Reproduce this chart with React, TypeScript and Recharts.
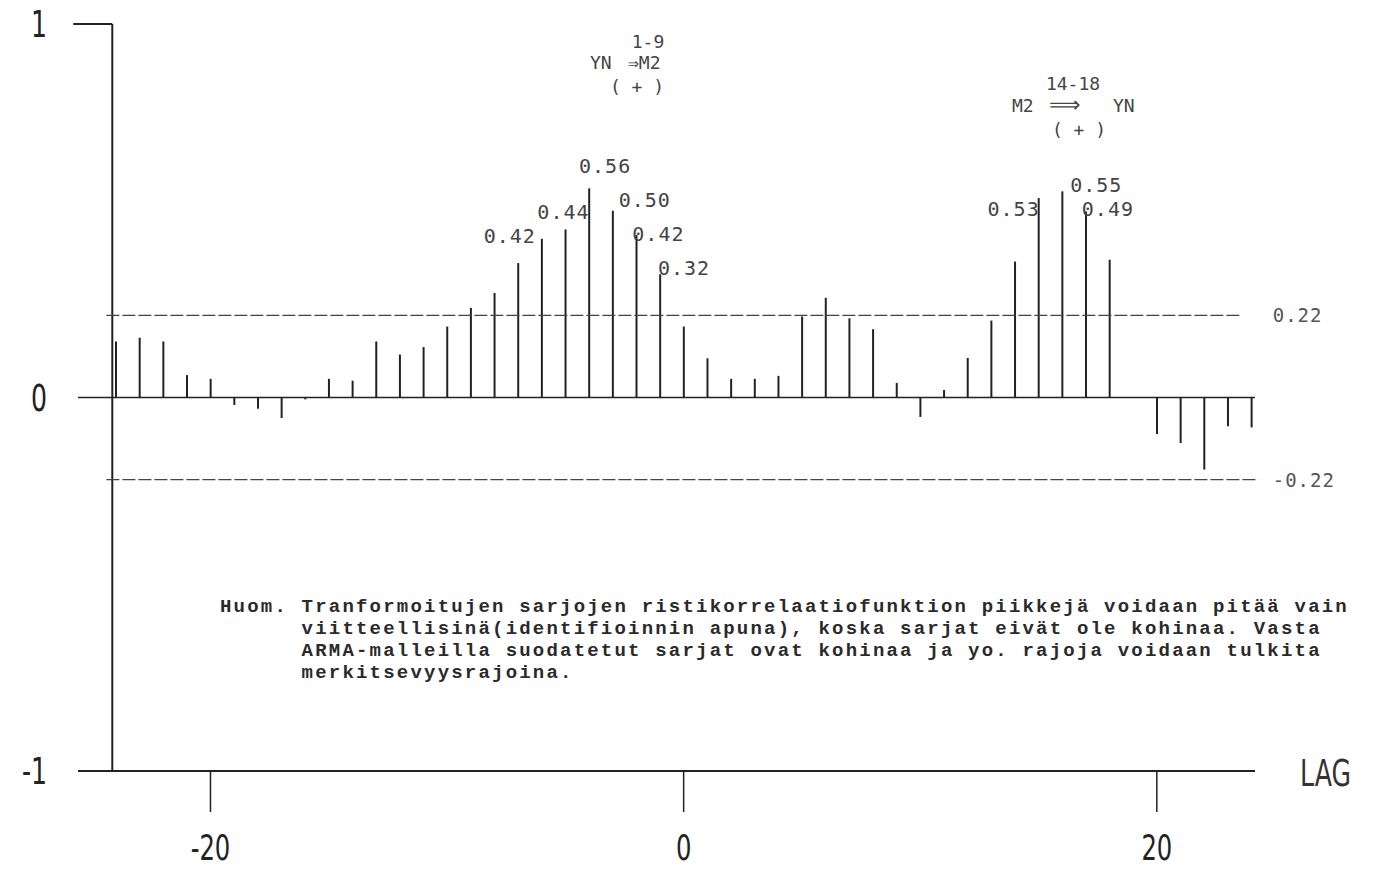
import React from "react"
import { ComposedChart, XAxis, YAxis, Bar, ReferenceLine, ReferenceDot } from "recharts"

// lag values of the cross-correlation function
const lags = [
  -24, -23, -22, -21, -20, -19, -18, -17, -16, -15, -14, -13, -12, -11, -10, -9, -8,
  -7, -6, -5, -4, -3, -2, -1, 0, 1, 2, 3, 4, 5, 6, 7, 8, 9, 10, 11, 12, 13, 14, 15,
  16, 17, 18, 19, 20, 21, 22, 23, 24,
]
const ccf = [
  0.15, 0.16, 0.15, 0.06, 0.05, -0.02, -0.03, -0.055, -0.005, 0.05, 0.045, 0.15, 0.115,
  0.135, 0.19, 0.24, 0.28, 0.36, 0.425, 0.45, 0.56, 0.5, 0.435, 0.33, 0.19, 0.105, 0.05,
  0.05, 0.058, 0.217, 0.267, 0.212, 0.183, 0.039, -0.052, 0.02, 0.106, 0.206, 0.364,
  0.534, 0.552, 0.498, 0.369, 0, -0.098, -0.122, -0.193, -0.077, -0.08,
]
const xTicks = [-20, 0, 20]
const yTicks = [-1, 0, 1]
const bandLimit = 0.22
const bandLabels = ["0.22", "-0.22"]
const peakLags = [-6, -5, -4, -3, -2, -1, 15, 16, 17]
const peakLabels = ["0.42", "0.44", "0.56", "0.50", "0.42", "0.32", "0.53", "0.55", "0.49"]
const noteLines = [
  "Huom. Tranformoitujen sarjojen ristikorrelaatiofunktion piikkejä voidaan pitää vain",
  "      viitteellisinä(identifioinnin apuna), koska sarjat eivät ole kohinaa. Vasta",
  "      ARMA-malleilla suodatetut sarjat ovat kohinaa ja yo. rajoja voidaan tulkita",
  "      merkitsevyysrajoina.",
]

const rows = lags.map((lag, i) => ({ lag, r: ccf[i] }))

// text offsets of the peak labels from the bar tops (px)
const peakOffsets = [
  [-58, 4], [-28, -10], [-10, -15], [6, -4], [-4, 6], [-2, 1], [-51, 18], [8, 1], [-4, 5],
]

const ink = "#222"
const plotFont = "'DejaVu Sans Condensed', 'DejaVu Sans', sans-serif"
const monoFont = "'DejaVu Sans Mono', monospace"
const typeFont = "'Liberation Mono', monospace"

const XTick = ({ x, payload }: any) => (
  <text
    transform={`translate(${x},860) scale(1,1.3)`}
    textAnchor="middle"
    fontFamily={plotFont}
    fontSize={27}
    fill={ink}
  >
    {payload.value}
  </text>
)

const YTick = ({ y, payload }: any) => (
  <text
    transform={`translate(47,${y + 13}) scale(1,1.3)`}
    textAnchor="end"
    fontFamily={plotFont}
    fontSize={28}
    fill={ink}
  >
    {payload.value}
  </text>
)

export default function App() {
  return (
    <div style={{ position: "absolute", left: 0, top: 0, width: 1375, height: 869, background: "#fff" }}>
      <ComposedChart
        width={1375}
        height={869}
        data={rows}
        margin={{ top: 24, right: 120, bottom: 38, left: 18 }}
      >
        <XAxis
          type="number"
          dataKey="lag"
          domain={[-25.6, 24.15]}
          allowDataOverflow
          ticks={xTicks}
          interval={0}
          height={60}
          tickSize={41}
          axisLine={{ stroke: ink, strokeWidth: 2 }}
          tickLine={{ stroke: ink, strokeWidth: 1.5 }}
          tick={XTick}
        />
        <YAxis
          type="number"
          domain={[-1, 1]}
          allowDataOverflow
          ticks={yTicks}
          width={60}
          axisLine={false}
          tickLine={false}
          tick={YTick}
        />
        <ReferenceLine y={0} stroke={ink} strokeWidth={1.5} />
        <ReferenceLine x={-24.15} stroke={ink} strokeWidth={2} ifOverflow="visible" />
        <ReferenceLine
          segment={[{ x: -25.8, y: 1 }, { x: -24.15, y: 1 }]}
          stroke={ink}
          strokeWidth={2}
          ifOverflow="visible"
        />
        <ReferenceLine
          segment={[{ x: -24.4, y: bandLimit }, { x: 23.5, y: bandLimit }]}
          stroke="#444"
          strokeWidth={1.2}
          strokeDasharray="13 3"
          ifOverflow="visible"
        />
        <ReferenceLine
          segment={[{ x: -24.4, y: -bandLimit }, { x: 24.3, y: -bandLimit }]}
          stroke="#444"
          strokeWidth={1.2}
          strokeDasharray="13 3"
          ifOverflow="visible"
        />
        {[bandLimit, -bandLimit].map((v, i) => (
          <ReferenceDot
            key={"band" + i}
            x={24.9}
            y={v}
            r={0}
            fill="none"
            stroke="none"
            ifOverflow="visible"
            label={{
              content: (p: any) => (
                <text
                  x={p.viewBox.x}
                  y={p.viewBox.y + 7}
                  fontFamily={monoFont}
                  fontSize={19}
                  letterSpacing={1}
                  fill="#555"
                >
                  {bandLabels[i]}
                </text>
              ),
            }}
          />
        ))}
        <Bar dataKey="r" barSize={2} fill={ink} isAnimationActive={false} />
        {peakLags.map((lag, i) => (
          <ReferenceDot
            key={"peak" + lag}
            x={lag}
            y={ccf[lags.indexOf(lag)]}
            r={0}
            fill="none"
            stroke="none"
            ifOverflow="visible"
            label={{
              content: (p: any) => (
                <text
                  x={p.viewBox.x + peakOffsets[i][0]}
                  y={p.viewBox.y + peakOffsets[i][1]}
                  fontFamily={monoFont}
                  fontSize={20}
                  letterSpacing={1}
                  fill="#444"
                >
                  {peakLabels[i]}
                </text>
              ),
            }}
          />
        ))}
      </ComposedChart>
      <svg
        width={1375}
        height={869}
        style={{ position: "absolute", left: 0, top: 0, pointerEvents: "none" }}
      >
        <g fontFamily={monoFont} fontSize={18} fill="#444">
          <text x={648} y={48} textAnchor="middle">1-9</text>
          <text x={590} y={69}>YN</text>
          <text x={628} y={69}>⇒M2</text>
          <text x={637} y={93} textAnchor="middle">( + )</text>
          <text x={1073} y={90} textAnchor="middle">14-18</text>
          <text x={1012} y={112}>M2</text>
          <text x={1049} y={112} fontSize={22}>⟹</text>
          <text x={1113} y={112}>YN</text>
          <text x={1079} y={136} textAnchor="middle">( + )</text>
        </g>
        <text
          transform="translate(1300,786) scale(1,1.3)"
          fontFamily={plotFont}
          fontSize={28}
          fill="#333"
        >
          LAG
        </text>
        <g fontFamily={typeFont} fontSize={19} fontWeight={700} letterSpacing={2.2} fill="#2a2a2a">
          {noteLines.map((line, i) => (
            <text key={i} x={220} y={612 + i * 22} style={{ whiteSpace: "pre" }}>
              {line}
            </text>
          ))}
        </g>
      </svg>
    </div>
  )
}
